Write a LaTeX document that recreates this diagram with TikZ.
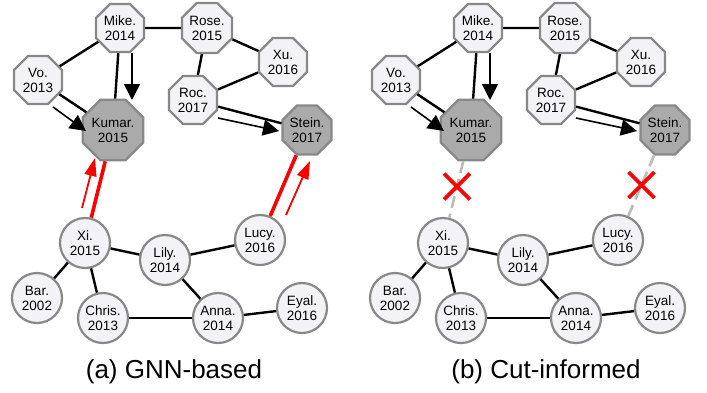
\documentclass[tikz,border=0pt]{standalone}
\usepackage{fontspec}
\setmainfont{Liberation Sans}
\usetikzlibrary{shapes.geometric,shapes.misc,arrows.meta,calc}
\definecolor{bordergray}{HTML}{888888}
\definecolor{lightfill}{HTML}{F3F3F7}
\definecolor{darkfill}{HTML}{AAAAAA}
\definecolor{cutgray}{HTML}{BBBBBB}
\newcommand{\commongraph}{%
  \node[oct] (mike) at (120,28) {Mike.\\2014};
  \node[oct] (rose) at (207,28) {Rose.\\2015};
  \node[oct] (xu) at (283,62) {Xu.\\2016};
  \node[oct] (vo) at (38,80) {Vo.\\2013};
  \node[oct] (roc) at (193,100) {Roc.\\2017};
  \node[octd] (kumar) at (113,130) {Kumar.\\2015};
  \node[octd] (stein) at (307,130) {Stein.\\2017};
  \node[circ] (xi) at (85,243) {Xi.\\2015};
  \node[circ] (lily) at (165,260) {Lily.\\2014};
  \node[circ] (lucy) at (260,240) {Lucy.\\2016};
  \node[circ] (bar) at (37,298) {Bar.\\2002};
  \node[circ] (chris) at (103,318) {Chris.\\2013};
  \node[circ] (anna) at (218,318) {Anna.\\2014};
  \node[circ] (eyal) at (302,308) {Eyal.\\2016};
  \draw[edge] (mike) -- (rose);
  \draw[edge] (mike) -- (vo);
  \draw[edge] (mike) -- (kumar);
  \draw[edge] (rose) -- (xu);
  \draw[edge] (rose) -- (roc);
  \draw[edge] (xu) -- (roc);
  \draw[edge] (vo) -- (kumar);
  \draw[edge] (roc) -- (stein);
  \draw[edge] (xi) -- (lily);
  \draw[edge] (xi) -- (bar);
  \draw[edge] (xi) -- (chris);
  \draw[edge] (lily) -- (lucy);
  \draw[edge] (lily) -- (anna);
  \draw[edge] (chris) -- (anna);
  \draw[edge] (anna) -- (eyal);
  \coordinate (va) at (53,107);
  \coordinate (vb) at (86,131);
  \coordinate (ma) at (132,53);
  \coordinate (mb) at (132,100);
  \coordinate (ra) at (218,118);
  \coordinate (rb) at (279,131);
  \draw[barrow] (va) -- (vb);
  \draw[barrow] (ma) -- (mb);
  \draw[barrow] (ra) -- (rb);
}
\begin{document}
\begin{tikzpicture}[x=1pt,y=-1pt,
  base/.style={draw=bordergray, line width=2.2pt, fill=lightfill, inner sep=0pt,
    align=center, font=\fontsize{13.5}{15}\selectfont},
  oct/.style={base, regular polygon, regular polygon sides=8, minimum size=52pt},
  octd/.style={oct, fill=darkfill},
  circ/.style={base, circle, minimum size=50pt},
  edge/.style={line width=2.4pt, black},
  barrow/.style={line width=1.6pt, black, -{Triangle[length=16pt,width=16pt]}},
  redge/.style={line width=3.6pt, red},
  rarrow/.style={line width=1.8pt, red, -{Triangle[length=18pt,width=12pt]}},
  cutedge/.style={line width=2.6pt, cutgray, dash pattern=on 12pt off 6pt},
  cross/.style={draw=red, cross out, line width=3.8pt, minimum size=22pt, inner sep=0pt},
  caption/.style={font=\fontsize{26}{30}\selectfont}
]
\useasboundingbox (0,0) rectangle (707,392);
\begin{scope}[name prefix=a-]
  \commongraph
  \draw[redge] (kumar) -- (xi);
  \draw[redge] (stein) -- (lucy);
  \coordinate (xa) at (82,208);
  \coordinate (xb) at (95,158);
  \coordinate (la) at (286,215);
  \coordinate (lb) at (310,161);
  \draw[rarrow] (xa) -- (xb);
  \draw[rarrow] (la) -- (lb);
  \node[caption] (cap) at (174,372) {(a) GNN-based};
\end{scope}
\begin{scope}[xshift=358pt, name prefix=b-]
  \commongraph
  \draw[cutedge] (kumar) -- (xi);
  \draw[cutedge] (stein) -- (lucy);
  \node[cross] (x1) at ($(kumar)!0.5!(xi)$) {};
  \node[cross] (x2) at ($(stein)!0.5!(lucy)$) {};
  \node[caption] (cap) at (188,372) {(b) Cut-informed};
\end{scope}
\end{tikzpicture}
\end{document}
